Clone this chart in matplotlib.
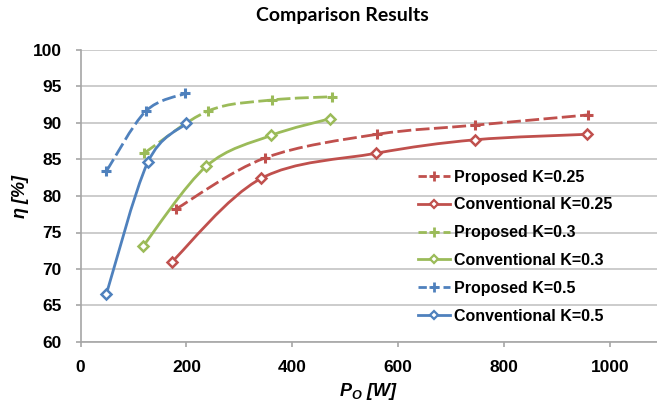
import numpy as np
import matplotlib
matplotlib.use("Agg")
import matplotlib.pyplot as plt
from matplotlib.path import Path
from matplotlib.patches import PathPatch
from matplotlib.lines import Line2D

plt.rcParams['font.family'] = ['Liberation Sans', 'DejaVu Sans']
plt.rcParams['font.weight'] = 'bold'
plt.rcParams['mathtext.fontset'] = 'custom'
plt.rcParams['mathtext.it'] = 'Liberation Sans:italic:bold'
plt.rcParams['mathtext.rm'] = 'Liberation Sans:italic:bold'

# output power [W] and efficiency [%] for each configuration
p_prop_025 = [180, 348, 560, 745, 958]
eff_prop_025 = [78.2, 85.2, 88.45, 89.7, 91.1]
p_conv_025 = [173, 341, 558, 745, 956]
eff_conv_025 = [71.0, 82.4, 85.85, 87.7, 88.45]

p_prop_03 = [120, 241, 362, 476]
eff_prop_03 = [85.85, 91.65, 93.15, 93.6]
p_conv_03 = [118, 238, 360, 472]
eff_conv_03 = [73.1, 84.1, 88.3, 90.6]

p_prop_05 = [49, 123, 198]
eff_prop_05 = [83.4, 91.6, 94.05]
p_conv_05 = [49, 127, 200]
eff_conv_05 = [66.6, 84.6, 89.95]

labels = ["Proposed K=0.25", "Conventional K=0.25",
          "Proposed K=0.3", "Conventional K=0.3",
          "Proposed K=0.5", "Conventional K=0.5"]

RED = "#C0504D"
GREEN = "#9BBB59"
BLUE = "#4F81BD"
DASH = (0, (5, 1.6))


def smooth_path(x, y):
    # Catmull-Rom tangents turned into cubic bezier segments
    pts = np.column_stack([x, y]).astype(float)
    ext = np.vstack([pts[0], pts, pts[-1]])
    verts = [pts[0]]
    codes = [Path.MOVETO]
    for i in range(len(pts) - 1):
        p0, p1, p2, p3 = ext[i], ext[i + 1], ext[i + 2], ext[i + 3]
        c1 = p1 + (p2 - p0) / 6.0
        c2 = p2 - (p3 - p1) / 6.0
        verts += [c1, c2, p2]
        codes += [Path.CURVE4] * 3
    return Path(verts, codes)


fig = plt.figure(figsize=(6.57, 4.04), dpi=100)
ax = fig.add_axes([80.5 / 657, 62 / 404, 1 - 80.5 / 657, 292 / 404])

series = [
    (p_prop_025, eff_prop_025, RED, True),
    (p_conv_025, eff_conv_025, RED, False),
    (p_prop_03, eff_prop_03, GREEN, True),
    (p_conv_03, eff_conv_03, GREEN, False),
    (p_prop_05, eff_prop_05, BLUE, True),
    (p_conv_05, eff_conv_05, BLUE, False),
]

handles = []
for (x, y, col, prop), lab in zip(series, labels):
    ls = DASH if prop else '-'
    patch = PathPatch(smooth_path(x, y), facecolor='none', edgecolor=col,
                      lw=2.0, linestyle=ls, zorder=3, capstyle='butt')
    ax.add_patch(patch)
    if prop:
        ax.plot(x, y, ls='none', marker='+', ms=7.5, mew=2.2, color=col, zorder=4)
        h = Line2D([], [], color=col, lw=2.0, ls=(0, (3, 1.5)), marker='+',
                   ms=6.5, mew=2.0)
    else:
        ax.plot(x, y, ls='none', marker='D', ms=5.5, mew=1.8, mfc='white',
                mec=col, zorder=4)
        h = Line2D([], [], color=col, lw=2.0, marker='D', ms=4.5, mew=1.6,
                   mfc='white', mec=col)
    handles.append(h)

ax.set_xlim(0, 1089)
ax.set_ylim(60, 100)
ax.set_xticks(range(0, 1001, 200))
ax.set_yticks(range(60, 101, 5))
ax.yaxis.grid(True, color='#C4C4C4', lw=1.2)
ax.set_axisbelow(True)
for s in ('top', 'right'):
    ax.spines[s].set_visible(False)
for s in ('left', 'bottom'):
    ax.spines[s].set_color('#A6A6A6')
    ax.spines[s].set_linewidth(1.2)
ax.tick_params(axis='both', colors='#A6A6A6', length=3.6, width=1.2,
               labelcolor='black', labelsize=12.5)
ax.tick_params(axis='y', pad=10)
ax.tick_params(axis='x', pad=9)

ax.set_xlabel(r'$P_O$ $[W]$', fontsize=13, labelpad=5)
ax.set_ylabel(r'$\eta$ $[\%]$', fontsize=13, labelpad=1)
fig.text(342.5 / 657, 1 - 16 / 404, "Comparison Results", ha='center',
         va='center', fontsize=14, fontweight='bold', family=['Lato', 'DejaVu Sans'])

ax.legend(handles, labels, loc='upper left', bbox_to_anchor=(0.585, 0.59),
          frameon=False, fontsize=11.5, handlelength=2.0, handletextpad=0.25,
          labelspacing=0.8, borderaxespad=0, borderpad=0)

fig.savefig("out.png", dpi=100)
